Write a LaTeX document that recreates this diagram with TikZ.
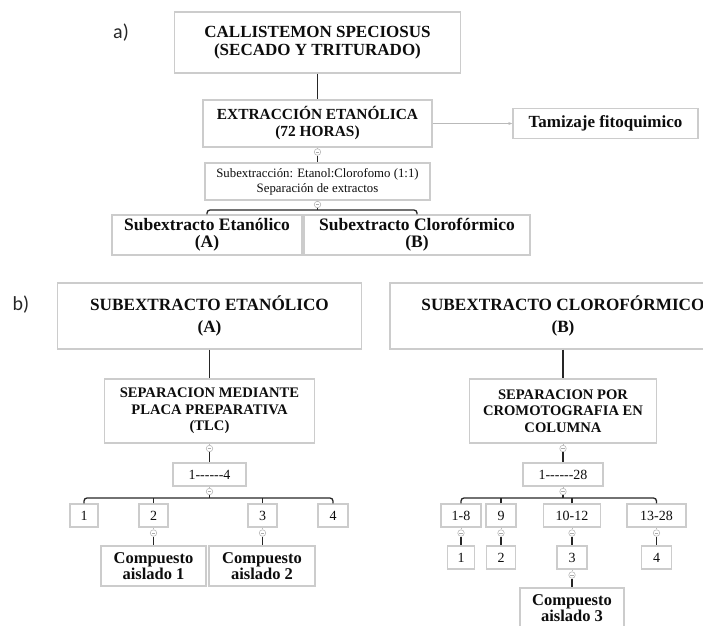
\documentclass[tikz,border=0pt]{standalone}
\usepackage{fontspec}
\setmainfont{Liberation Serif}
\newfontfamily\labelfont{Carlito}
\usetikzlibrary{arrows.meta,calc}
\newcommand\hyp{\mbox{-}}
\begin{document}
\begin{tikzpicture}[x=1pt,y=-1pt,
  box/.style={draw=gray!40, line width=1.4pt, fill=white, inner sep=0pt, align=center, text=black!95},
  bigcap/.style={box, font=\fontsize{17.2}{22}\selectfont\bfseries},
  small/.style={box, minimum height=23pt, font=\fontsize{14}{14}\selectfont},
  comp/.style={box, minimum height=40pt, font=\fontsize{16.5}{16}\selectfont\bfseries},
  conn/.style={draw=black!85, line width=1.3pt},
  faint/.style={draw=gray!55, line width=0.6pt},
  toggle/.style={circle, draw=gray!55, fill=white, minimum size=6.5pt, inner sep=0pt, line width=0.6pt,
    path picture={\draw[gray!65, line width=0.6pt] ([xshift=-1.8pt]path picture bounding box.center) -- ([xshift=1.8pt]path picture bounding box.center);}},
  tag/.style={font=\labelfont\fontsize{20}{20}\selectfont, text=black!85}
]
\useasboundingbox (0,0) rectangle (703,625);
\clip (0,0) rectangle (703,625);

% ---------- part a ----------
\node[tag] (la) at (121,33) {a)};
\node[box, minimum width=286pt, minimum height=61pt, font=\fontsize{17}{18}\selectfont\bfseries] (n1) at (317.5,42.5) {CALLISTEMON SPECIOSUS\\(SECADO Y TRITURADO)};
\node[box, minimum width=229pt, minimum height=47pt, font=\fontsize{15.4}{17}\selectfont\bfseries] (n2) at (317.5,123.5) {EXTRACCIÓN ETANÓLICA\\(72 HORAS)};
\node[box, minimum width=185pt, minimum height=30pt, font=\fontsize{17}{17}\selectfont\bfseries] (tam) at (605.5,123.5) {Tamizaje fitoquimico};
\node[box, minimum width=225pt, minimum height=37pt, font=\fontsize{12.8}{15}\selectfont] (n3) at (317.5,181.5) {Subextracción: Etanol:Clorofomo (1:1)\\Separación de extractos};
\node[box, minimum width=190pt, minimum height=40pt, font=\fontsize{17.5}{17}\selectfont\bfseries] (sa) at (207,235) {Subextracto Etanólico\\(A)};
\node[box, minimum width=226pt, minimum height=40pt, font=\fontsize{17.5}{17}\selectfont\bfseries] (sb) at (417,235) {Subextracto Clorofórmico\\(B)};

\node[toggle] (t2) at (317.5,152) {};
\node[toggle] (t3) at (317.5,204.5) {};
\coordinate (ja) at (317.5,210);

\draw[conn] (n1.south) -- (n2.north);
\draw[faint, -{Stealth[length=4pt,width=3pt]}] (n2.east) -- (tam.west);
\draw[faint] (n2.south) -- (t2.north);
\draw[conn] (t2.south) -- (n3.north);
\draw[faint] (n3.south) -- (t3.north);
\draw[conn] (t3.south) -- (ja);
\draw[conn, rounded corners=3pt] (sa.north) |- (ja) -| (sb.north);

% ---------- part b ----------
\node[tag] (lb) at (21,305) {b)};
\node[bigcap, minimum width=304pt, minimum height=66pt] (A) at (209.5,316) {SUBEXTRACTO ETANÓLICO\\(A)};
\node[bigcap, minimum width=346pt, minimum height=66pt] (B) at (563,316) {SUBEXTRACTO CLOROFÓRMICO\\(B)};
\node[box, minimum width=210pt, minimum height=64pt, font=\fontsize{14.6}{16.5}\selectfont\bfseries] (sepA) at (209.5,411) {SEPARACION MEDIANTE\\PLACA PREPARATIVA\\(TLC)};
\node[box, minimum width=187pt, minimum height=64pt, font=\fontsize{14.6}{16.5}\selectfont\bfseries] (sepB) at (563,411) {SEPARACION POR\\CROMOTOGRAFIA EN\\COLUMNA};

% left branch
\node[small, minimum width=73pt] (rA) at (209.5,474.5) {1\hyp\hyp\hyp\hyp\hyp\hyp4};
\node[small, minimum width=28pt] (a1) at (84,515.5) {1};
\node[small, minimum width=29pt] (a2) at (153.5,515.5) {2};
\node[small, minimum width=29pt] (a3) at (262.5,515.5) {3};
\node[small, minimum width=30pt] (a4) at (333,515.5) {4};
\node[comp, minimum width=105pt] (ca1) at (153.5,566) {Compuesto\\aislado 1};
\node[comp, minimum width=106pt] (ca2) at (262,566) {Compuesto\\aislado 2};

\node[toggle] (tsA) at (209.5,448.5) {};
\node[toggle] (trA) at (209.5,491.5) {};
\node[toggle] (ta2) at (153.5,533) {};
\node[toggle] (ta3) at (262.5,533) {};
\coordinate (jb) at (209.5,498);

\draw[conn] (A.south) -- (sepA.north);
\draw[faint] (sepA.south) -- (tsA.north);
\draw[conn] (tsA.south) -- (rA.north);
\draw[faint] (rA.south) -- (trA.north);
\draw[conn] (trA.south) -- (jb);
\draw[conn, rounded corners=3pt] (a1.north) |- (jb) -| (a4.north);
\draw[conn] (a2.north) -- (a2.north |- jb);
\draw[conn] (a3.north) -- (a3.north |- jb);
\draw[faint] (a2.south) -- (ta2.north);
\draw[conn] (ta2.south) -- (ca1.north -| ta2.south);
\draw[faint] (a3.south) -- (ta3.north);
\draw[conn] (ta3.south) -- (ca2.north -| ta3.south);

% right branch
\node[small, minimum width=80pt] (rB) at (563,474.5) {1\hyp\hyp\hyp\hyp\hyp\hyp28};
\node[small, minimum width=40pt] (b1) at (461,515.5) {1-8};
\node[small, minimum width=30pt] (b2) at (501,515.5) {9};
\node[small, minimum width=57pt] (b3) at (572,515.5) {10-12};
\node[small, minimum width=59pt] (b4) at (656.5,515.5) {13-28};
\node[small, minimum width=27pt] (d1) at (461,557.5) {1};
\node[small, minimum width=29pt] (d2) at (501,557.5) {2};
\node[small, minimum width=30pt] (d3) at (572,557.5) {3};
\node[small, minimum width=30pt] (d4) at (656.5,557.5) {4};
\node[comp, minimum width=104pt] (cb3) at (572,608) {Compuesto\\aislado 3};

\node[toggle] (tsB) at (563,448.5) {};
\node[toggle] (trB) at (563,491.5) {};
\node[toggle] (tb1) at (461,533) {};
\node[toggle] (tb2) at (501,533) {};
\node[toggle] (tb3) at (572,533) {};
\node[toggle] (tb4) at (656.5,533) {};
\node[toggle] (td3) at (572,575) {};
\coordinate (jc) at (563,498);

\draw[conn] (B.south -| sepB.north) -- (sepB.north);
\draw[faint] (sepB.south) -- (tsB.north);
\draw[conn] (tsB.south) -- (rB.north);
\draw[faint] (rB.south) -- (trB.north);
\draw[conn] (trB.south) -- (jc);
\draw[conn, rounded corners=3pt] (b1.north) |- (jc) -| (b4.north);
\draw[conn] (b2.north) -- (b2.north |- jc);
\draw[conn] (b3.north) -- (b3.north |- jc);
\foreach \u/\t/\v in {b1/tb1/d1, b2/tb2/d2, b3/tb3/d3, b4/tb4/d4}{
  \draw[faint] (\u.south) -- (\t.north);
  \draw[conn] (\t.south) -- (\v.north);
}
\draw[faint] (d3.south) -- (td3.north);
\draw[conn] (td3.south) -- (cb3.north);
\end{tikzpicture}
\end{document}
